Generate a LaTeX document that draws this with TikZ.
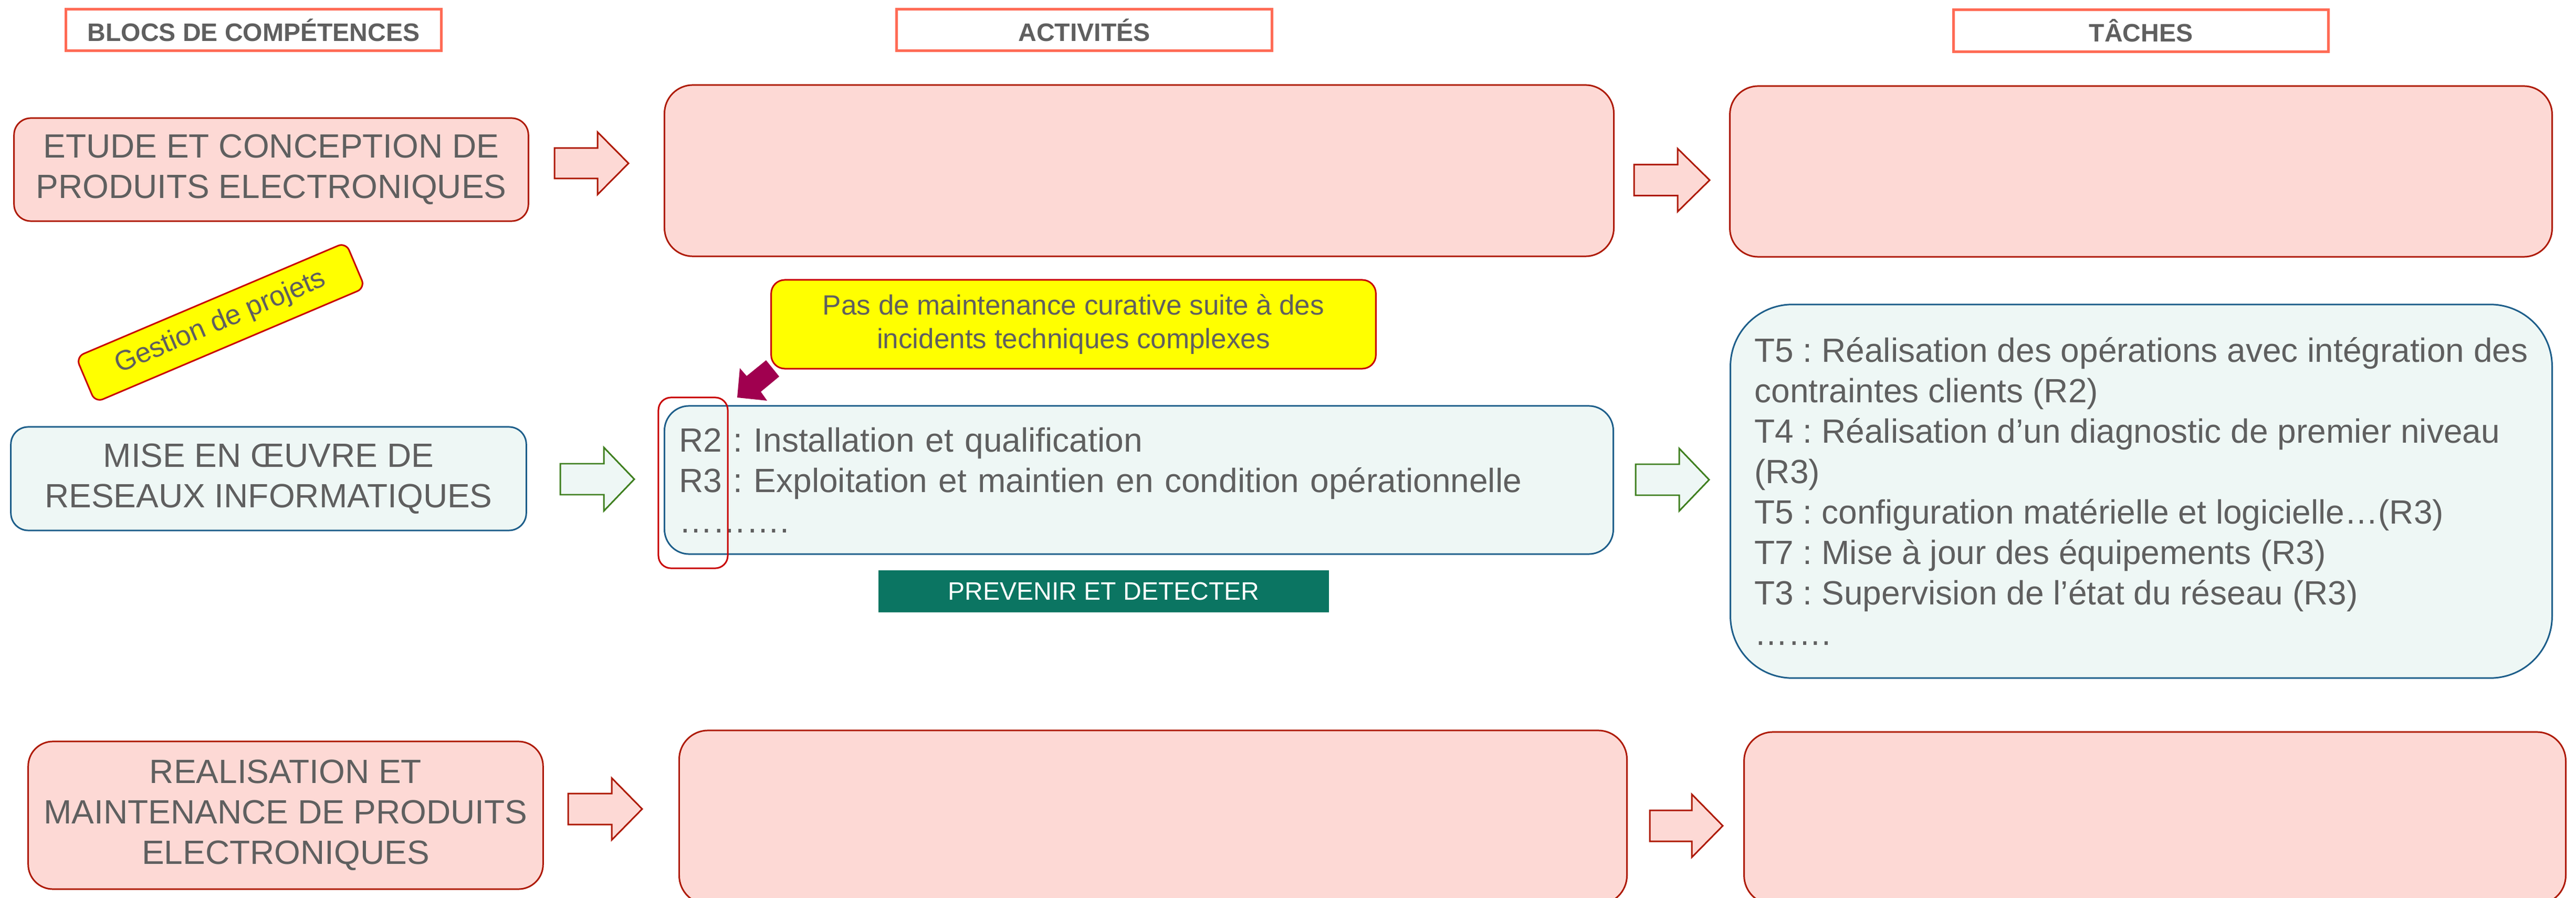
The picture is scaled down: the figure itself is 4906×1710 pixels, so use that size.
\documentclass[tikz,border=0pt]{standalone}
\usepackage{fontspec}
\setmainfont{Liberation Sans}
\frenchspacing
\definecolor{txt}{HTML}{5F5F5F}
\definecolor{pinkf}{HTML}{FDD9D5}
\definecolor{pinkb}{HTML}{AE1A06}
\definecolor{hdrc}{HTML}{FF6B55}
\definecolor{bluef}{HTML}{EEF7F5}
\definecolor{blueb}{HTML}{1D5E8A}
\definecolor{greenb}{HTML}{3F7F1F}
\definecolor{redc}{HTML}{C80000}
\definecolor{yel}{HTML}{FFFF00}
\definecolor{purp}{HTML}{A0004F}
\definecolor{tealc}{HTML}{0B7562}
\newcommand\myblockarrow[7]{\draw[#1] (#2,{#5-#6}) -- (#3,{#5-#6}) -- (#3,{#5-#7}) -- (#4,#5) -- (#3,{#5+#7}) -- (#3,{#5+#6}) -- (#2,{#5+#6}) -- cycle;}
\tikzset{
  hdr/.style={draw=hdrc, line width=1.4pt, fill=white, inner sep=0pt, text=txt,
    font=\bfseries\fontsize{13.66}{16.4}\selectfont},
  bigtext/.style={text=txt, font=\fontsize{18.2}{21.9}\selectfont\frenchspacing},
  pinkbox/.style={draw=pinkb, line width=0.85pt, fill=pinkf, inner sep=0pt, bigtext, align=center},
  bluebox/.style={draw=blueb, line width=0.85pt, fill=bluef, inner sep=0pt, bigtext},
  pinkarrow/.style={draw=pinkb, line width=0.85pt, fill=pinkf},
  greenarrow/.style={draw=greenb, line width=0.85pt, fill=bluef},
  yelbox/.style={draw=redc, line width=0.85pt, fill=yel, inner sep=0pt, text=txt,
    font=\fontsize{15.08}{18.2}\selectfont, align=center},
}
\begin{document}
\begin{tikzpicture}[x=0.01cm, y=-0.01cm]
\useasboundingbox (0,0) rectangle (4906,1710);
\clip (0,0) rectangle (4906,1710);

% headers
\node[hdr, minimum width=7.15cm, minimum height=0.79cm] (h1) at (483,57) {BLOCS DE COMPÉTENCES};
\node[hdr, minimum width=7.15cm, minimum height=0.79cm] (h2) at (2065,57) {ACTIVITÉS};
\node[hdr, minimum width=7.14cm, minimum height=0.80cm] (h3) at (4077.5,58.5) {TÂCHES};

% row 1
\node[pinkbox, rounded corners=0.32cm, minimum width=9.79cm, minimum height=1.96cm] (b1) at (516.5,323)
  {ETUDE ET CONCEPTION DE\\PRODUITS ELECTRONIQUES};
\node[pinkbox, rounded corners=0.54cm, minimum width=18.07cm, minimum height=3.26cm] (a1) at (2169.5,325) {};
\node[pinkbox, rounded corners=0.54cm, minimum width=15.65cm, minimum height=3.25cm] (t1) at (4077.5,326.5) {};
\myblockarrow{pinkarrow}{1056}{1138}{1197}{311}{29}{59.5}
\myblockarrow{pinkarrow}{3112}{3195}{3256}{343}{29.5}{60}

% gestion de projets
\node[yelbox, rotate=23, rounded corners=0.16cm, minimum width=5.58cm, minimum height=0.94cm] (gp) at (420,614) {Gestion de projets};

% row 2
\node[bluebox, align=center, rounded corners=0.33cm, minimum width=9.81cm, minimum height=1.97cm] (b2) at (511.5,911.5)
  {MISE EN ŒUVRE DE\\RESEAUX INFORMATIQUES};
\myblockarrow{greenarrow}{1067}{1150}{1208}{912.5}{29.5}{60.5}
\node[bluebox, align=left, text width=17.50cm, inner xsep=0.28cm, rounded corners=0.47cm, minimum height=2.82cm] (a2) at (2169,914)
  {R2 : Installation et qualification\\R3 : Exploitation et maintien en condition opérationnelle\\……….};
\node[draw=redc, line width=0.85pt, rounded corners=0.24cm, minimum width=1.32cm, minimum height=3.25cm] (rr) at (1320,919.5) {};
\myblockarrow{greenarrow}{3115}{3198}{3255}{913.5}{29.5}{59.5}
\node[bluebox, align=left, rounded corners=1.18cm, minimum width=15.64cm, minimum height=7.11cm] (t2) at (4078,935.5)
  {T5 : Réalisation des opérations avec intégration des\\
   contraintes clients (R2)\\
   T4 : Réalisation d’un diagnostic de premier niveau\\
   (R3)\\
   T5 : configuration matérielle et logicielle…(R3)\\
   T7 : Mise à jour des équipements (R3)\\
   T3 : Supervision de l’état du réseau (R3)\\
   …….};

% callout with arrow
\fill[purp] (1459,686) -- (1422,716) -- (1409,701) -- (1404,757) -- (1461,763) -- (1449,746) -- (1484,717) -- cycle;
\node[yelbox, rounded corners=0.26cm, minimum width=11.51cm, minimum height=1.69cm] (co) at (2044.5,617.5)
  {Pas de maintenance curative suite à des\\incidents techniques complexes};
\node[fill=tealc, text=white, inner sep=0pt, minimum width=8.58cm, minimum height=0.80cm,
  font=\fontsize{13.66}{16.4}\selectfont] (pv) at (2102,1126) {PREVENIR ET DETECTER};

% row 3
\node[pinkbox, rounded corners=0.47cm, minimum width=9.80cm, minimum height=2.81cm] (b3) at (544,1552.5)
  {REALISATION ET\\MAINTENANCE DE PRODUITS\\ELECTRONIQUES};
\myblockarrow{pinkarrow}{1082}{1165}{1223}{1540.5}{29.5}{59}
\node[pinkbox, rounded corners=0.55cm, minimum width=18.04cm, minimum height=3.31cm] (a3) at (2196,1556.5) {};
\myblockarrow{pinkarrow}{3142}{3222}{3281}{1572.5}{29.5}{60}
\node[pinkbox, rounded corners=0.55cm, minimum width=15.64cm, minimum height=3.28cm] (t3) at (4104,1558) {};
\end{tikzpicture}
\end{document}
